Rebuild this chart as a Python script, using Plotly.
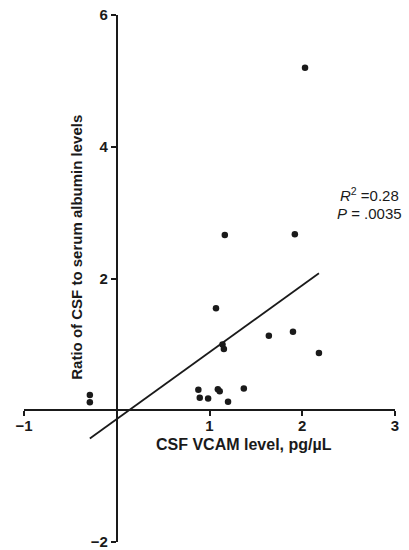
import plotly.graph_objects as go

# Data
vcam = [2.03, 1.165, 1.92, 1.07, 1.64, 1.90, 2.18, 1.14, 1.155, 0.88, 0.895,
        0.985, 1.09, 1.11, 1.20, 1.37, -0.29, -0.29]
ratio = [5.20, 2.66, 2.67, 1.55, 1.13, 1.19, 0.87, 1.00, 0.93, 0.31, 0.19,
         0.18, 0.32, 0.29, 0.13, 0.33, 0.23, 0.12]

fit_x = [-0.29, 2.18]
fit_y = [-0.43, 2.08]

x_ticks = [-1, 1, 2, 3]
y_ticks = [-2, 2, 4, 6]

x_title = "CSF VCAM level, pg/µL"
y_title = "Ratio of CSF to serum albumin levels"
stat_r2 = "<i>R</i><sup>2</sup> =0.28"
stat_p = "<i>P</i> = .0035"

FONT = "Liberation Sans, Arial, Helvetica, sans-serif"
INK = "#1a1a1a"

fig = go.Figure()
fig.add_trace(go.Scatter(x=fit_x, y=fit_y, mode="lines",
                         line=dict(color=INK, width=1.8), hoverinfo="skip",
                         showlegend=False))
fig.add_trace(go.Scatter(x=vcam, y=ratio, mode="markers",
                         marker=dict(color=INK, size=6.5, line=dict(width=0)),
                         showlegend=False))

axis_common = dict(showline=True, linecolor=INK, linewidth=2, ticks="outside",
                   ticklen=5, tickwidth=2, tickcolor=INK, showgrid=False,
                   zeroline=False, automargin=False, ticklabeloverflow="allow",
                   tickfont=dict(family=FONT, size=15, color=INK, weight="bold"))

fig.update_layout(
    width=409, height=550,
    margin=dict(l=24, r=14, t=15, b=8),
    paper_bgcolor="white", plot_bgcolor="white",
    xaxis=dict(range=[-1, 3], anchor="free", position=0.25,
               tickvals=x_ticks, ticklabelstandoff=-3, **axis_common),
    yaxis=dict(range=[-2, 6], anchor="free", position=0.25,
               tickvals=y_ticks, **axis_common),
    annotations=[
        dict(x=1.37, y=-0.52, xref="x", yref="y", text=x_title, showarrow=False,
             xanchor="center", yanchor="middle",
             font=dict(family=FONT, size=16, color=INK, weight="bold")),
        dict(x=-0.43, y=2.48, xref="x", yref="y", text=y_title, showarrow=False,
             textangle=-90, xanchor="center", yanchor="middle",
             font=dict(family=FONT, size=15, color=INK, weight="bold")),
        dict(x=2.72, y=3.28, xref="x", yref="y", text=stat_r2, showarrow=False,
             xanchor="center", yanchor="middle",
             font=dict(family=FONT, size=15, color=INK)),
        dict(x=2.73, y=2.98, xref="x", yref="y", text=stat_p, showarrow=False,
             xanchor="center", yanchor="middle",
             font=dict(family=FONT, size=15, color=INK)),
    ],
)

fig.write_html("out.html", config={"displayModeBar": False},
               post_script="document.body.style.margin='0';"
                           "document.body.style.overflow='hidden';")
